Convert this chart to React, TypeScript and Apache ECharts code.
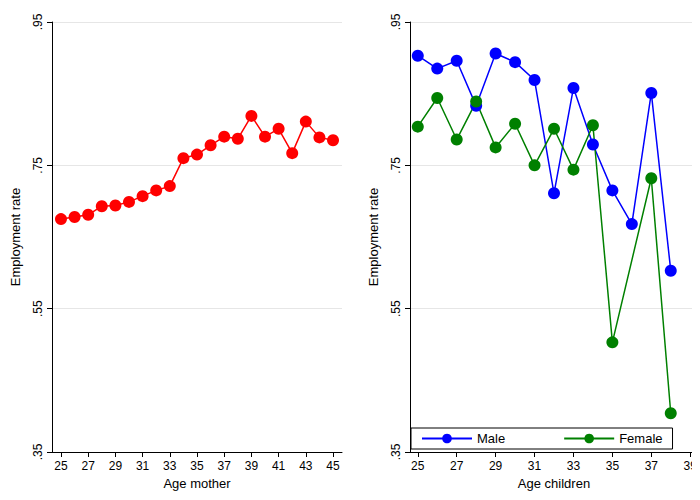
import React, { useEffect, useRef } from "react";
import * as echarts from "echarts";

const motherAges = [25,26,27,28,29,30,31,32,33,34,35,36,37,38,39,40,41,42,43,44,45];
const motherRate = [.675,.678,.681,.693,.694,.699,.707,.715,.721,.760,.765,.778,.790,.787,.819,.790,.801,.767,.811,.789,.785];
const childAges = [25,26,27,28,29,30,31,32,33,34,35,36,37,38];
const maleRate = [.903,.885,.896,.833,.906,.894,.869,.711,.858,.779,.715,.668,.851,.603];
const femaleRate: (number|null)[] = [.804,.844,.786,.839,.775,.808,.750,.801,.744,.806,.503,null,.732,.404];
const leftTicks = [25,27,29,31,33,35,37,39,41,43,45];
const rightTicks = [25,27,29,31,33,35,37,39];

export default function App() {
  const ref = useRef<HTMLDivElement>(null);
  useEffect(() => {
    const chart = echarts.init(ref.current!, null, { renderer: "svg" });
    const fmt = (v: number) => v.toFixed(2).replace(/^0/, "");
    const font = { color: "#000", fontSize: 12, fontFamily: "Liberation Sans" };
    const yAxis = (gi: number) => ({
      type: "value", gridIndex: gi, min: 0.35, max: 0.95, interval: 0.2,
      name: "Employment rate", nameLocation: "middle", nameGap: 30,
      nameTextStyle: { ...font, fontSize: 13 },
      axisLine: { show: true, lineStyle: { color: "#000" } },
      axisTick: { show: true, length: 5, lineStyle: { color: "#000" } },
      axisLabel: { ...font, rotate: 90, formatter: fmt },
      splitLine: { show: true, lineStyle: { color: "#e6e6e6" } },
    });
    const xAxis = (gi: number, min: number, max: number, name: string, ticks: number[]) => ({
      type: "value", gridIndex: gi, min, max, name, nameLocation: "middle", nameGap: 20,
      nameTextStyle: { ...font, fontSize: 13 },
      axisLine: { show: true, onZero: false, lineStyle: { color: "#000" } },
      axisTick: { show: true, length: 5, lineStyle: { color: "#000" }, customValues: ticks },
      axisLabel: { ...font, customValues: ticks },
      splitLine: { show: false },
    });
    chart.setOption({
      animation: false,
      backgroundColor: "#fff",
      grid: [
        { left: 52, width: 290, top: 22, height: 430 },
        { left: 410, width: 288, top: 22, height: 430 },
      ],
      xAxis: [
        xAxis(0, 24.34, 45.66, "Age mother", leftTicks),
        xAxis(1, 24.6, 39.4, "Age children", rightTicks),
      ],
      yAxis: [yAxis(0), yAxis(1)],
      legend: {
        left: 411, top: 428, width: 285, itemGap: 58, padding: [4, 10],
        borderColor: "#000", borderWidth: 1, itemWidth: 50, itemHeight: 12,
        textStyle: { ...font, fontSize: 13 },
        data: ["Male", "Female"],
      },
      series: [
        { type: "line", xAxisIndex: 0, yAxisIndex: 0, data: motherAges.map((a, i) => [a, motherRate[i]]),
          color: "#ff0000", symbol: "circle", symbolSize: 12, lineStyle: { width: 1.5 } },
        { name: "Male", type: "line", xAxisIndex: 1, yAxisIndex: 1, data: childAges.map((a, i) => [a, maleRate[i]]),
          color: "#0000ff", symbol: "circle", symbolSize: 12, lineStyle: { width: 1.5 } },
        { name: "Female", type: "line", xAxisIndex: 1, yAxisIndex: 1,
          data: childAges.map((a, i) => [a, femaleRate[i]]).filter(d => d[1] !== null),
          color: "#008000", symbol: "circle", symbolSize: 12, lineStyle: { width: 1.5 } },
      ],
    });
    return () => chart.dispose();
  }, []);
  return <div ref={ref} style={{ width: 700, height: 500, margin: -8 }} />;
}
